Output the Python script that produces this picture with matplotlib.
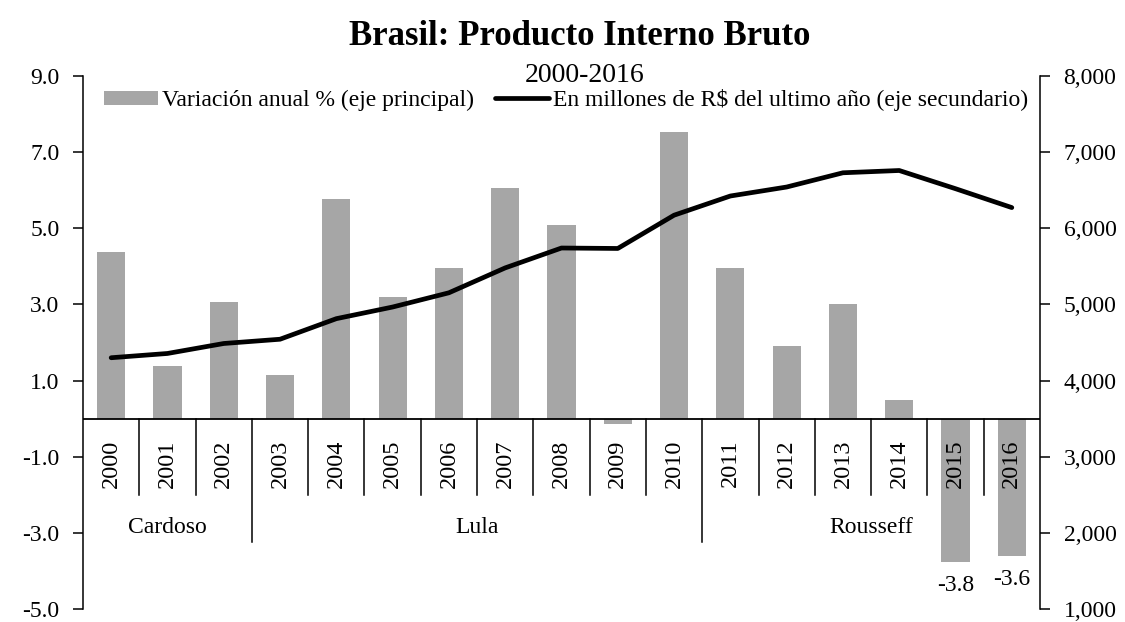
import matplotlib
matplotlib.use('Agg')
import matplotlib.pyplot as plt
import matplotlib.ticker as mticker

# --- Datos ---
years = ["2000", "2001", "2002", "2003", "2004", "2005", "2006", "2007", "2008",
         "2009", "2010", "2011", "2012", "2013", "2014", "2015", "2016"]
var_anual = [4.39, 1.39, 3.06, 1.15, 5.76, 3.20, 3.96, 6.07, 5.09,
             -0.13, 7.53, 3.97, 1.92, 3.00, 0.50, -3.77, -3.60]
pib_millones = [4300, 4356, 4487, 4543, 4813, 4966, 5153, 5480, 5741,
                5735, 6172, 6424, 6542, 6729, 6759, 6520, 6272]
presidentes = ["Cardoso", "Lula", "Rousseff"]
periodos = [(0, 2), (3, 10), (11, 16)]  # indices de inicio y fin

GRIS = '#a6a6a6'
FS = 17

plt.rcParams['font.family'] = ['Liberation Serif', 'DejaVu Serif']

fig = plt.figure(figsize=(11.25, 6.22), dpi=100)
ax = fig.add_axes([0.0738, 0.0209, 0.8506, 0.8569])
ax2 = ax.twinx()

x = list(range(len(years)))
bars = ax.bar(x, var_anual, width=0.5, color=GRIS, zorder=3,
              label="Variación anual % (eje principal)")
line, = ax2.plot(x, pib_millones, color='black', lw=3.4, solid_capstyle='round',
                 solid_joinstyle='round',
                 label="En millones de R$ del ultimo año (eje secundario)")

ax.set_ylim(-5, 9)
ax.set_yticks([-5, -3, -1, 1, 3, 5, 7, 9])
ax.yaxis.set_major_formatter(mticker.FormatStrFormatter('%.1f'))
ax2.set_ylim(1000, 8000)
ax2.set_yticks(range(1000, 8001, 1000))
ax2.yaxis.set_major_formatter(mticker.FuncFormatter(lambda v, p: format(int(v), ',')))
ax.set_xlim(-0.5, len(years) - 0.5)
ax.set_xticks([])

for a in (ax, ax2):
    a.spines['top'].set_visible(False)
    a.spines['bottom'].set_visible(False)
    a.spines['left'].set_linewidth(1.1)
    a.spines['right'].set_linewidth(1.1)
    a.tick_params(axis='y', direction='out', length=7, width=1.1, labelsize=FS, pad=10)
ax2.spines['left'].set_visible(False)
ax.spines['right'].set_visible(False)
ax2.patch.set_visible(False)

# eje horizontal en cero y separadores de categorias
ax.axhline(0, color='black', lw=1.3, zorder=4)
inicios = [ini for ini, fin in periodos[1:]]
for i in range(1, len(years)):
    largo = -3.25 if i in inicios else -2.0
    ax.plot([i - 0.5, i - 0.5], [0, largo], color='black', lw=1.1, zorder=2)

for i, yr in enumerate(years):
    ax.text(i, -0.55, yr, rotation=90, ha='center', va='top', fontsize=FS + 0.5, zorder=5)

for nombre, (ini, fin) in zip(presidentes, periodos):
    ax.text((ini + fin) / 2, -2.85, nombre, ha='center', va='center', fontsize=FS)

for i, v in enumerate(var_anual):
    if v < -3:
        ax.text(i, v - 0.35, f'{v:.1f}', ha='center', va='top', fontsize=FS)

fig.text(0.515, 0.942, "Brasil: Producto Interno Bruto", ha='center', va='center',
         fontsize=25, fontweight='bold')
fig.text(0.52, 0.879, "2000-2016", ha='center', va='center', fontsize=20)

leg = fig.legend(handles=[bars, line], loc='center', bbox_to_anchor=(0.503, 0.839),
                 ncol=2, frameon=False, fontsize=17, handlelength=2.3,
                 handleheight=0.55, handletextpad=0.15, columnspacing=0.9,
                 borderaxespad=0, borderpad=0)

fig.savefig('out.png', dpi=100)
